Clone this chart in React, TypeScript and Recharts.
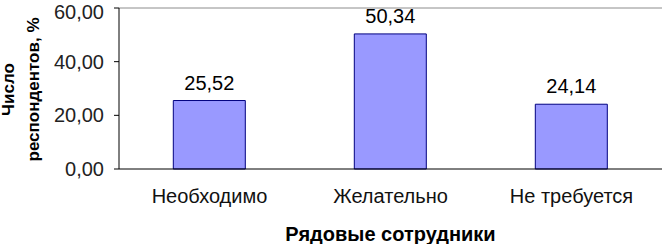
import React from 'react'
import { BarChart, Bar, XAxis, YAxis, LabelList, Label, ReferenceLine } from 'recharts'

const categories = ['Необходимо', 'Желательно', 'Не требуется']
const shares = [25.52, 50.34, 24.14]
const yTicks = [0, 20, 40, 60]
// boundaries between categories, where the x tick marks go
const boundaryTicks = [0, 1, 2, 3]

const data = categories.map((name, i) => ({ name, value: shares[i] }))

const FONT = '"Liberation Sans", Arial, sans-serif'
const fmt = (v: number) => v.toFixed(2).replace('.', ',')

const YTitle = (props: any) => {
  const vb = props.viewBox || { y: 8, height: 161 }
  const cy = vb.y + vb.height / 2 + 1
  return (
    <g fontFamily={FONT} fontWeight="bold" fontSize={17} fill="#000">
      <text x={14} y={cy} textAnchor="middle" transform={`rotate(-90, 14, ${cy})`}>
        Число
      </text>
      <text x={39} y={cy} textAnchor="middle" transform={`rotate(-90, 39, ${cy})`}>
        респондентов, %
      </text>
    </g>
  )
}

const XTitle = (props: any) => {
  const vb = props.viewBox || { x: 119, y: 169, width: 543 }
  const cx = vb.x + vb.width / 2
  return (
    <text
      x={cx}
      y={241}
      textAnchor="middle"
      fontFamily={FONT}
      fontWeight="bold"
      fontSize={20}
      fill="#000"
    >
      Рядовые сотрудники
    </text>
  )
}

export default function App() {
  return (
    <div style={{ position: 'absolute', left: 0, top: 0, background: '#fff' }}>
      <BarChart
        width={663}
        height={244}
        data={data}
        margin={{ top: 8, right: 1, bottom: 45, left: 59 }}
        barCategoryGap="30%"
      >
        <XAxis
          xAxisId="ticks"
          type="number"
          domain={[0, 3]}
          ticks={boundaryTicks}
          height={0}
          tick={false}
          axisLine={false}
          tickLine={{ stroke: '#000' }}
          tickSize={5}
        />
        <XAxis
          xAxisId="cat"
          dataKey="name"
          height={30}
          axisLine={{ stroke: '#000' }}
          tickLine={false}
          tickSize={5}
          tickMargin={15}
          interval={0}
          tick={{ fontFamily: FONT, fontSize: 20, fill: '#111' }}
        >
          <Label content={<XTitle />} />
        </XAxis>
        <YAxis
          yAxisId="left"
          width={60}
          domain={[0, 60]}
          ticks={yTicks}
          tickFormatter={fmt}
          axisLine={{ stroke: '#000' }}
          tickLine={{ stroke: '#000' }}
          tickSize={5}
          tickMargin={10}
          tick={{ fontFamily: FONT, fontSize: 20, fill: '#222' }}
        >
          <Label content={<YTitle />} />
        </YAxis>
        <YAxis
          yAxisId="right"
          orientation="right"
          width={0}
          domain={[0, 60]}
          tick={false}
          tickLine={false}
          axisLine={{ stroke: '#8c8c8c' }}
        />
        <ReferenceLine yAxisId="left" xAxisId="cat" y={60} stroke="#8c8c8c" />
        <Bar
          xAxisId="cat"
          yAxisId="left"
          dataKey="value"
          fill="#9999ff"
          stroke="#000080"
          strokeWidth={1}
          isAnimationActive={false}
        >
          <LabelList
            dataKey="value"
            position="top"
            offset={11}
            formatter={(v: any) => fmt(Number(v))}
            style={{ fontFamily: FONT, fontSize: 20, fill: '#000' }}
          />
        </Bar>
      </BarChart>
    </div>
  )
}
